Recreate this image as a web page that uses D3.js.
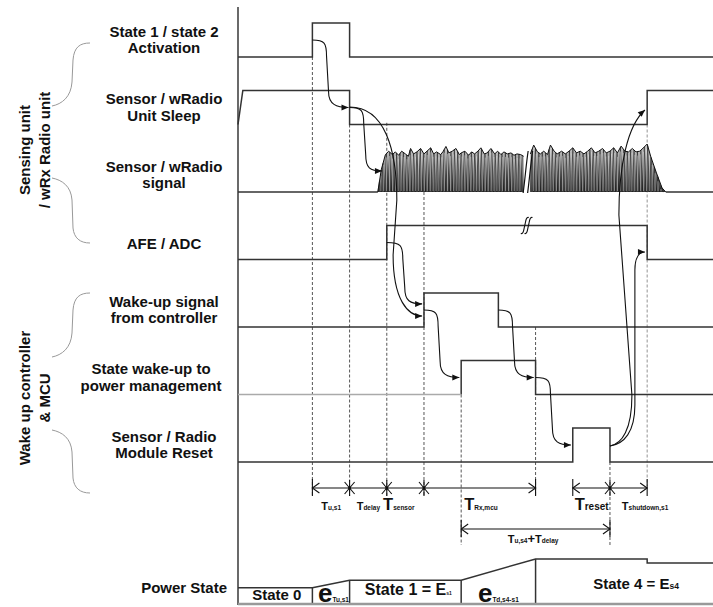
<!DOCTYPE html>
<html><head><meta charset="utf-8">
<script src="https://cdn.jsdelivr.net/npm/d3@7"></script>
<style>
body{margin:0;background:#fff}
text{font-family:"Liberation Sans",Arial,sans-serif;font-weight:bold;fill:#111}
</style></head>
<body><svg id="c" width="713" height="607"></svg>
<script>
// ---------------- DATA ----------------
const laneLabels = [
  ["State 1 / state 2","Activation"],
  ["Sensor / wRadio","Unit Sleep"],
  ["Sensor / wRadio","signal"],
  ["AFE / ADC"],
  ["Wake-up signal","from controller"],
  ["State wake-up to","power management"],
  ["Sensor / Radio","Module Reset"]
];
const groupLabels = [["Sensing unit","/ wRx Radio unit"],["Wake up controller","& MCU"]];
// digital waveforms: [time, level] vertices per lane
const wave0 = [[0,0],[2,0],[2,1],[3,1],[3,0],[12.77,0]];
const wave1 = [[0,0],[0.13,1],[3,1],[3,0],[11,0],[11,1],[12.77,1]];
const wave2a = [[0,0],[3.76,0]];
const wave2b = [[11.5,0],[12.77,0]];
const wave3 = [[0,0],[4,0],[4,1],[11,1],[11,0],[12.77,0]];
const wave4 = [[0,0],[5,0],[5,1],[7,1],[7,0],[12.77,0]];
const wave5gray = [[0,0],[6,0]];
const wave5 = [[6,0],[6,1],[8,1],[8,0],[12.77,0]];
const wave6 = [[0,0],[9,0],[9,1],[10,1],[10,0],[12.77,0]];
// sensor signal envelope [time, amplitude in level units]
const envelopeA = [[3.76,0],[3.85,0.65],[3.96,1.09],[4.05,1.2],[4.15,1.1],[4.23,1.18],[4.32,1.08],[4.4,1.2],[4.5,1.12],[4.58,1.05],[4.64,1.28],[4.72,1.12],[4.81,1.18],[4.91,1.28],[5.0,1.12],[5.08,1.2],[5.18,1.3],[5.26,1.12],[5.34,1.18],[5.45,1.1],[5.52,1.2],[5.59,1.34],[5.67,1.15],[5.76,1.2],[5.86,1.28],[5.95,1.1],[6.0,1.15],[6.1,1.2],[6.2,1.08],[6.28,1.18],[6.36,1.12],[6.45,1.2],[6.53,1.3],[6.62,1.12],[6.7,1.15],[6.8,1.28],[6.9,1.12],[6.98,1.2],[7.07,1.1],[7.15,1.18],[7.24,1.12],[7.34,1.15],[7.42,1.08],[7.5,1.12],[7.6,1.1],[7.68,1.05]];
const envelopeB = [[7.86,1.12],[7.95,1.38],[8.05,1.18],[8.13,1.12],[8.22,1.2],[8.32,1.1],[8.4,1.38],[8.5,1.2],[8.58,1.12],[8.7,1.2],[8.8,1.12],[8.9,1.2],[9.0,1.3],[9.1,1.15],[9.2,1.2],[9.3,1.12],[9.4,1.2],[9.5,1.3],[9.6,1.15],[9.7,1.2],[9.8,1.28],[9.9,1.15],[10.0,1.2],[10.1,1.3],[10.2,1.15],[10.3,1.35],[10.4,1.2],[10.5,1.18],[10.6,1.28],[10.7,1.18],[10.8,1.2],[10.9,1.3],[11.0,1.41],[11.1,1.03],[11.25,0.56],[11.4,0.12],[11.5,0]];
// dashed guides: [time, start lane, start level, end row]
const guides = [[2,0,0,1],[3,1,0,1],[4,1,0.05,1],[5,2,0,1],[6,5,0,2],[8,4,0,1],[10,6,0,2],[11,1,0,0.8]];
// s-shaped connectors: [fromT, fromLane, fromLv, toT, toLane, toLv, bendT]
const connectors = [
  [2,0,0.5, 2.97,1,0.5, 2.38],
  [3,1,0.5, 3.87,2,0.62, 3.38],
  [4,3,0.5, 4.95,4,0.68, 4.43],
  [5,4,0.5, 5.95,5,0.5, 5.38],
  [7,4,0.5, 7.95,5,0.5, 7.38],
  [8,5,0.5, 8.95,6,0.5, 8.4]
];
// free-form connectors: start, then cubic segments [c1, c2, end] or line [end], points as [time, laneFloat]
const longCurves = [
  [[3,0.741],[[3.95,0.741],[4.27,1.378],[4.27,2.119]],[[4.17,2.933]],[[4.17,3.6],[4.57,3.837],[4.95,3.837]]],
  [[10,5.763],[[10.38,5.733],[10.67,5.556],[10.67,5.156]],[[10.67,3.156]],[[10.67,2.978],[10.78,2.889],[10.94,2.889]]],
  [[10,5.763],[[10.32,5.733],[10.59,5.526],[10.59,5.007]],[[10.24,2.341]],[[10.24,1.6],[10.48,1.007],[10.94,0.785]]]
];
// time interval annotations
const spans = [
  {row:1, t0:2, t1:8, stars:[3,4,5]},
  {row:1, t0:9, t1:11, stars:[10]},
  {row:2, t0:6, t1:10, stars:[]}
];
const timeLabels = [
  {row:1, t:2.24, parts:[["T",11],["u,s1",6.5]]},
  {row:1, t:3.19, parts:[["T",11],["delay",6.5]]},
  {row:1, t:3.9,  parts:[["T",16.5],["sensor",6.5]]},
  {row:1, t:6.08, parts:[["T",16.5],["Rx,mcu",6.5]]},
  {row:1, t:9.05, parts:[["T",16.5],["reset",10]]},
  {row:1, t:10.32,parts:[["T",11],["shutdown,s1",6.5]]},
  {row:2, t:7.25, parts:[["T",11],["u,s4",6.5],["+",13],["T",11],["delay",6.5]]}
];
// power state outline [time, relative energy], dividers and labels
const powerOutline = [[0,0.36],[2,0.36],[3,0.53],[6,0.53],[8,1],[11,1],[11,0.91],[12.77,0.91]];
const powerDividers = [[2,0.36],[3,0.53],[6,0.53],[8,1]];
const powerLabels = [
  {t:0.38, lift:0.04, parts:[["State 0",15]]},
  {t:2.15, lift:0,    parts:[["e",26],["Tu,s1",6.5]]},
  {t:3.41, lift:0.15, parts:[["State 1 = E",16],["s1",5]]},
  {t:6.45, lift:0,    parts:[["e",26],["Td,s4-s1",6.5]]},
  {t:9.55, lift:0.3,  parts:[["State 4  = E",15],["s4",8.5]]}
];

// ---------------- LAYOUT ----------------
const svg = d3.select("#c");
const x = d3.scaleLinear().domain([0,12.77]).range([238,713]);
const yLane = d3.scaleLinear().domain([0,6]).range([57,462]);
const AMP = 34;
const Y = (lane,lv)=>yLane(lane)-lv*AMP;
const rowY = {1:488, 2:529};
const guideEnd = {1:496, 2:545, 0.8:486};
const yPower = d3.scaleLinear().domain([0,1]).range([604,559]);
const INK = "#333";

// axis
svg.append("line").attr("x1",x(0)).attr("x2",x(0)).attr("y1",7).attr("y2",605)
  .attr("stroke","#444").attr("stroke-width",1.6);

// dashed guides
guides.forEach(g=>{
  svg.append("line").attr("x1",x(g[0])).attr("x2",x(g[0]))
    .attr("y1",Y(g[1],g[2])).attr("y2",guideEnd[g[3]])
    .attr("stroke", g[0]===11?"#888":"#444").attr("stroke-width",0.9)
    .attr("stroke-dasharray","3,2");
});

// waveforms
const wl = lane => d3.line().x(d=>x(d[0])).y(d=>Y(lane,d[1]));
[[wave0,0],[wave1,1],[wave2a,2],[wave2b,2],[wave3,3],[wave4,4],[wave5,5],[wave6,6]].forEach(([w,l])=>{
  svg.append("path").attr("d",wl(l)(w)).attr("fill","none").attr("stroke",INK).attr("stroke-width",1.5);
});
svg.append("path").attr("d",wl(5)(wave5gray)).attr("fill","none").attr("stroke","#aaa").attr("stroke-width",1.5);

// signal
const defs = svg.append("defs");
const gr = defs.append("linearGradient").attr("id","sg").attr("x1",0).attr("x2",0).attr("y1",0).attr("y2",1);
gr.append("stop").attr("offset","0%").attr("stop-color","#d0d0d0");
gr.append("stop").attr("offset","100%").attr("stop-color","#3a3a3a");
function interp(env,t){
  for(let i=1;i<env.length;i++){ if(t<=env[i][0]){const a=env[i-1],b=env[i];return a[1]+(b[1]-a[1])*(t-a[0])/(b[0]-a[0]);} }
  return env[env.length-1][1];
}
[envelopeA,envelopeB].forEach(env=>{
  const area = d3.area().x(d=>x(d[0])).y0(Y(2,0)).y1(d=>Y(2,d[1]));
  svg.append("path").attr("d",area(env)).attr("fill","url(#sg)");
  const pts=[]; let k=0;
  for(let px=x(env[0][0]); px<=x(env[env.length-1][0]); px+=1.7, k++){
    const t=x.invert(px);
    pts.push([px, k%2? Y(2,interp(env,t)) : Y(2,0)]);
  }
  svg.append("path").attr("d",d3.line()(pts)).attr("fill","none").attr("stroke","#1a1a1a").attr("stroke-width",0.7).attr("opacity",0.8);
  // white streaks
  for(let px=x(env[0][0])+3; px<x(env[env.length-1][0])-2; px+=2.9){
    const t=x.invert(px);
    svg.append("line").attr("x1",px).attr("x2",px).attr("y1",Y(2,0)-1).attr("y2",Y(2,interp(env,t))+4)
      .attr("stroke","#fff").attr("stroke-width",0.55).attr("opacity",0.75);
  }
  svg.append("path").attr("d",d3.line().x(d=>x(d[0])).y(d=>Y(2,d[1])).curve(d3.curveLinear)(env))
    .attr("fill","none").attr("stroke","#111").attr("stroke-width",1);
});
// signal break marks
[7.72,7.84].forEach(t=>{
  const bx=x(t), by=Y(2,0);
  svg.append("path").attr("d",`M${bx-2},${by+1} C${bx},${by-14} ${bx+1},${by-28} ${bx+3},${by-41}`)
    .attr("fill","none").attr("stroke","#111").attr("stroke-width",1.2);
});
// AFE break mark
[7.71,7.81].forEach(t=>{
  const bx=x(t), by=Y(3,1);
  svg.append("path").attr("d",`M${bx-4},${by+8} C${bx-1},${by+9} ${bx-1},${by+3} ${bx},${by} C${bx+1},${by-4} ${bx+1},${by-9} ${bx+4},${by-8}`)
    .attr("fill","none").attr("stroke","#111").attr("stroke-width",1.1);
});

// arrowheads
function head(px,py,ang){
  const L=7,Wd=3;
  const p1=[px-L*Math.cos(ang)+Wd*Math.sin(ang), py-L*Math.sin(ang)-Wd*Math.cos(ang)];
  const p2=[px-L*Math.cos(ang)-Wd*Math.sin(ang), py-L*Math.sin(ang)+Wd*Math.cos(ang)];
  svg.append("path").attr("d",`M${px},${py}L${p1}L${p2}Z`).attr("fill","#111");
}
connectors.forEach(c=>{
  const x0=x(c[0]), y0=Y(c[1],c[2]), x1=x(c[3]), y1=Y(c[4],c[5]), xv=x(c[6]);
  const dy = Math.min(16,(y1-y0)/3);
  const d=`M${x0},${y0} C${xv-2},${y0} ${xv},${y0+3} ${xv},${y0+dy} L${xv+2},${y1-dy} C${xv+2},${y1-3} ${x1-12},${y1} ${x1},${y1}`;
  svg.append("path").attr("d",d).attr("fill","none").attr("stroke","#111").attr("stroke-width",1.1);
  head(x1,y1,0);
});
const P = p=>[x(p[0]), yLane(p[1])];
longCurves.forEach(cv=>{
  let d=`M${P(cv[0])}`; let prev=P(cv[0]), last;
  cv.slice(1).forEach(seg=>{
    if(seg.length===3){ d+=` C${P(seg[0])} ${P(seg[1])} ${P(seg[2])}`; prev=P(seg[1]); last=P(seg[2]); }
    else { d+=` L${P(seg[0])}`; prev=last||prev; last=P(seg[0]); }
  });
  svg.append("path").attr("d",d).attr("fill","none").attr("stroke","#111").attr("stroke-width",1.1);
  head(last[0],last[1],Math.atan2(last[1]-prev[1],last[0]-prev[0]));
});

// spans
spans.forEach(s=>{
  const yy=rowY[s.row], a=x(s.t0), b=x(s.t1);
  const g=svg.append("g").attr("stroke","#111").attr("stroke-width",1.1).attr("fill","none");
  g.append("line").attr("x1",a).attr("x2",b).attr("y1",yy).attr("y2",yy);
  g.append("path").attr("d",`M${a+7},${yy-5} L${a},${yy} L${a+7},${yy+5}`);
  g.append("path").attr("d",`M${b-7},${yy-5} L${b},${yy} L${b-7},${yy+5}`);
  g.append("line").attr("x1",a).attr("x2",a).attr("y1",yy-9).attr("y2",yy+8);
  g.append("line").attr("x1",b).attr("x2",b).attr("y1",yy-9).attr("y2",yy+8);
  s.stars.forEach(t=>{
    const sx=x(t);
    g.append("path").attr("d",`M${sx-5},${yy-6}L${sx+5},${yy+6}M${sx+5},${yy-6}L${sx-5},${yy+6}M${sx},${yy-8}L${sx},${yy+8}`);
    svg.append("circle").attr("cx",sx).attr("cy",yy).attr("r",1.6).attr("fill","#111");
  });
});
const labelRowBase = {1:510, 2:543};
function richText(px,py,parts){
  const t=svg.append("text").attr("x",px).attr("y",py);
  parts.forEach(p=>t.append("tspan").attr("font-size",p[1]).text(p[0]));
  return t;
}
timeLabels.forEach(l=>richText(x(l.t),labelRowBase[l.row],l.parts));

// power state
svg.append("path").attr("d",d3.line().x(d=>x(d[0])).y(d=>yPower(d[1]))(powerOutline))
  .attr("fill","none").attr("stroke",INK).attr("stroke-width",1.5);
powerDividers.forEach(p=>{
  svg.append("line").attr("x1",x(p[0])).attr("x2",x(p[0])).attr("y1",yPower(0)).attr("y2",yPower(p[1]))
    .attr("stroke",INK).attr("stroke-width",1.5);
});
svg.append("line").attr("x1",x(0)).attr("x2",x(12.77)).attr("y1",yPower(0)).attr("y2",yPower(0))
  .attr("stroke","#999").attr("stroke-width",2.5);
powerLabels.forEach(l=>richText(x(l.t), yPower(0)-2-l.lift*45, l.parts));

// lane labels
laneLabels.forEach((lines,i)=>{
  const base=yLane(i);
  const cx = i===5?151:164;
  if(lines.length===1){
    svg.append("text").attr("x",cx).attr("y",base-11).attr("text-anchor","middle").attr("font-size",15).text(lines[0]);
  } else {
    svg.append("text").attr("x",cx).attr("y",base-20.5).attr("text-anchor","middle").attr("font-size",15).text(lines[0]);
    svg.append("text").attr("x",cx).attr("y",base-4).attr("text-anchor","middle").attr("font-size",15).text(lines[1]);
  }
});
svg.append("text").attr("x",227).attr("y",593).attr("text-anchor","end").attr("font-size",15).text("Power State");

// group labels + braces
const groupCenters=[150,398];
groupLabels.forEach((g,i)=>{
  const cy=groupCenters[i];
  svg.append("text").attr("transform",`translate(30,${cy}) rotate(-90)`).attr("text-anchor","middle").attr("font-size",15).text(g[0]);
  svg.append("text").attr("transform",`translate(50,${cy}) rotate(-90)`).attr("text-anchor","middle").attr("font-size",15).text(g[1]);
});
const braces=[[43,106,178,243],[293,357,430,493]];
braces.forEach(b=>{
  const [t,i1,i2,bt]=b;
  svg.append("path").attr("d",`M90,${t} C80,${t} 74,${t+4} 73,${t+17} L72,${i1-24} C71,${i1-9} 62,${i1-2} 52,${i1}`)
    .attr("fill","none").attr("stroke","#999").attr("stroke-width",1);
  svg.append("path").attr("d",`M52,${i2} C62,${i2+2} 71,${i2+8} 72,${i2+22} L73,${bt-15} C74,${bt-5} 80,${bt} 90,${bt}`)
    .attr("fill","none").attr("stroke","#999").attr("stroke-width",1);
});
</script></body></html>
